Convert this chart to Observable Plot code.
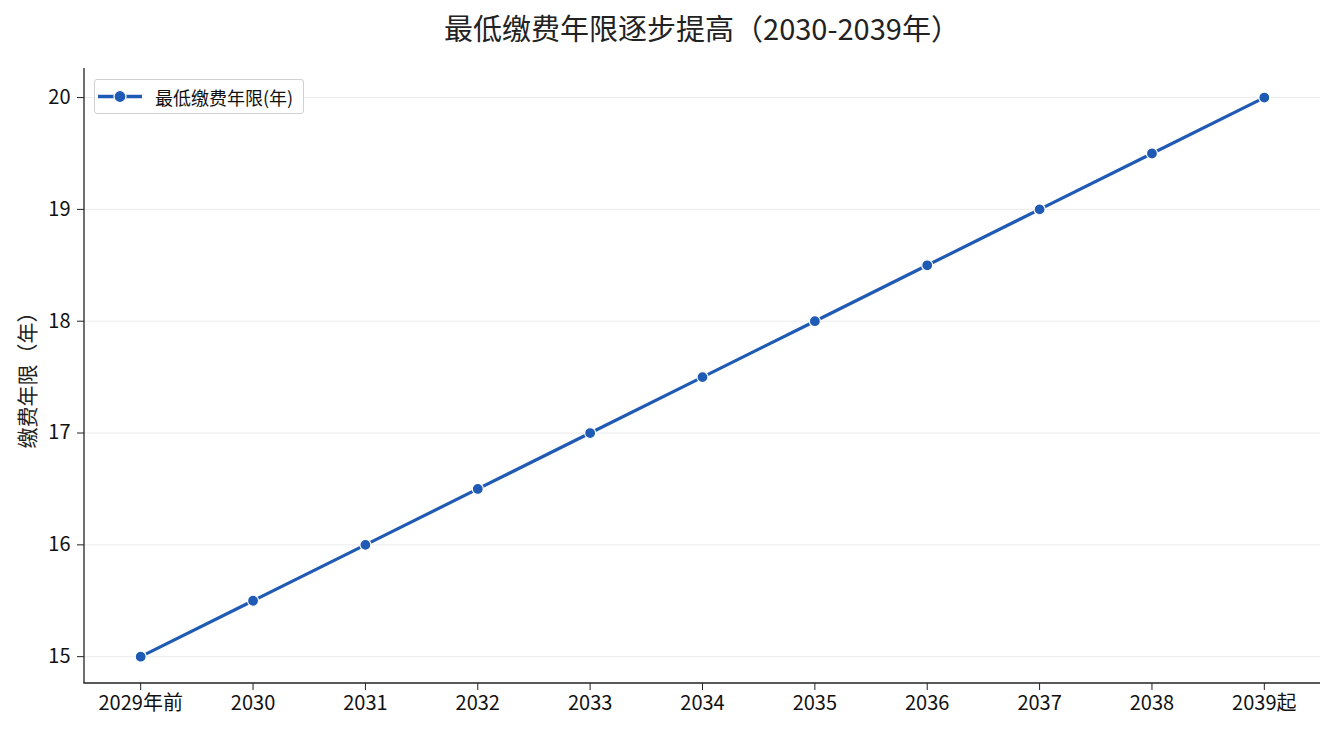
<!DOCTYPE html>
<html><head><meta charset="utf-8">
<script src="https://cdn.jsdelivr.net/npm/d3@7"></script>
<script src="https://cdn.jsdelivr.net/npm/@observablehq/plot@0.6"></script>
<style>
body{margin:0;background:#fff;font-family:"Noto Sans CJK SC","Noto Sans",sans-serif;}
#wrap{position:relative;width:1335px;height:735px;}
#title{position:absolute;top:8px;left:84px;width:1236px;text-align:center;font-size:29px;line-height:39px;color:#222;}
#chart{position:absolute;top:50px;left:0;}
#ylab{position:absolute;left:26px;top:375px;transform:translate(-50%,-50%) rotate(-90deg);font-size:21px;color:#222;white-space:nowrap;}
#legend{position:absolute;left:94px;top:79px;width:210px;height:35px;border:1px solid #d0d0d0;border-radius:3px;background:#fff;box-sizing:border-box;font-size:18px;color:#111;}
#legend svg{position:absolute;left:0;top:0;}
#legend span{position:absolute;left:60px;top:50%;transform:translateY(-50%);line-height:1;white-space:nowrap;}
</style></head>
<body>
<div id="wrap">
<div id="title">最低缴费年限逐步提高（2030-2039年）</div>
<div id="chart"></div>
<div id="ylab">缴费年限（年）</div>
<div id="legend"><svg width="60" height="33"><line x1="3" y1="16.5" x2="19" y2="16.5" stroke="#1f5bb5" stroke-width="3.5"/><line x1="31" y1="16.5" x2="47" y2="16.5" stroke="#1f5bb5" stroke-width="3.5"/><circle cx="25" cy="16.5" r="6" fill="#1f5bb5" stroke="#fff" stroke-width="1.2"/></svg><span>最低缴费年限(年)</span></div>
</div>
<script>
const years = ["2029年前","2030","2031","2032","2033","2034","2035","2036","2037","2038","2039起"];
const minYears = [15,15.5,16,16.5,17,17.5,18,18.5,19,19.5,20];
const yTicks = [15,16,17,18,19,20];
const data = years.map((y,i)=>({year:y, v:minYears[i]}));
const color = "#1f5bb5";
const spines = (index, scales, values, dim) => {
  const g = d3.create("svg:g");
  const x0 = dim.marginLeft, x1 = dim.width - dim.marginRight;
  const y0 = dim.marginTop, y1 = dim.height - dim.marginBottom;
  g.append("line").attr("x1",x0).attr("x2",x0).attr("y1",y0).attr("y2",y1).attr("stroke","#222").attr("stroke-width",1.3);
  g.append("line").attr("x1",x0-0.6).attr("x2",x1).attr("y1",y1).attr("y2",y1).attr("stroke","#222").attr("stroke-width",1.3);
  return g.node();
};
const chart = Plot.plot({
  width: 1335, height: 685,
  marginLeft: 84, marginRight: 15, marginTop: 18, marginBottom: 52,
  style: {fontFamily: '"Noto Sans CJK SC","Noto Sans",sans-serif', fontSize: "20px", color: "#111", background: "#fff"},
  x: {type: "point", domain: years, padding: 0.5, round: false, label: null},
  y: {domain: [14.76, 20.26], label: null},
  marks: [
    Plot.gridY(yTicks, {stroke: "#e6e6e6", strokeOpacity: 1, strokeWidth: 0.8}),
    Plot.axisY(yTicks, {tickSize: 7, tickPadding: 7, stroke: "#222", fontSize: 20, tickFormat: "d", label: null}),
    Plot.axisX({tickSize: 7, tickPadding: 5, stroke: "#222", fontSize: 20, label: null}),
    Plot.line(data, {x: "year", y: "v", stroke: color, strokeWidth: 3.2}),
    Plot.dot(data, {x: "year", y: "v", r: 5.5, fill: color, stroke: "#fff", strokeWidth: 1.2}),
    spines
  ]
});
document.getElementById("chart").appendChild(chart);
</script>
</body></html>
